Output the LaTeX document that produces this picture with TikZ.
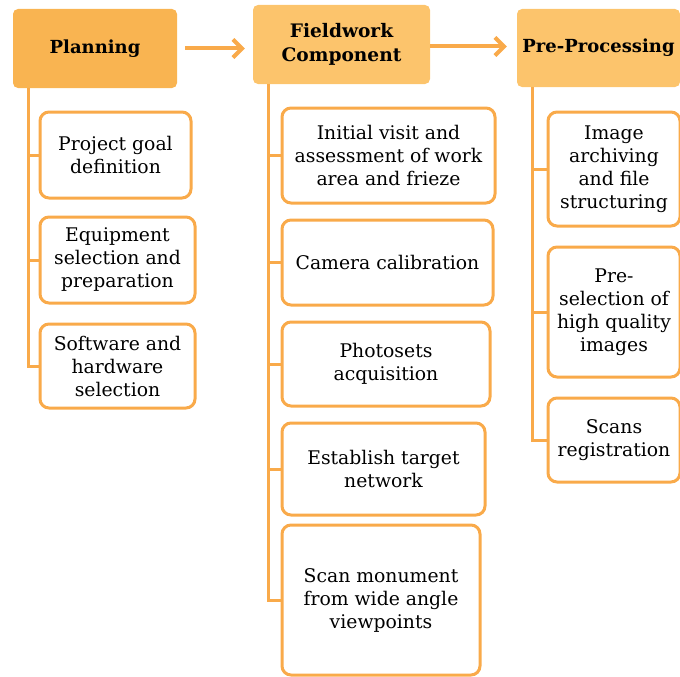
\documentclass[tikz,border=0pt]{standalone}
\usepackage{fontspec}
\setmainfont{DejaVu Serif}
\usetikzlibrary{arrows.meta}
\definecolor{stemorange}{HTML}{F9AA4A}
\definecolor{headdark}{HTML}{F9B451}
\definecolor{headlight}{HTML}{FCC46C}
\tikzset{
  head/.style={rounded corners=5pt, inner sep=0pt, align=center,
    font=\fontsize{18}{24}\selectfont\bfseries},
  task/.style={draw=stemorange, line width=3pt, rounded corners=9pt, fill=white,
    inner sep=0pt, align=center, font=\fontsize{18.8}{23}\selectfont},
  link/.style={draw=stemorange, line width=3pt},
  flow/.style={draw=stemorange, line width=4pt, -{Straight Barb[length=9pt,width=18pt,line width=4pt]}},
}
\begin{document}
\begin{tikzpicture}[x=1pt, y=-1pt]
\useasboundingbox (0,0) rectangle (680,677);
% column headers
\node[head, fill=headdark, minimum width=164pt, minimum height=79pt] (plan) at (95,48.5) {Planning};
\node[head, fill=headlight, minimum width=177pt, minimum height=79pt, font=\fontsize{18.6}{24}\selectfont\bfseries] (field) at (341.5,44.5) {Fieldwork\\Component};
\node[head, fill=headlight, minimum width=163pt, minimum height=78pt] (pre) at (598.5,48) {Pre-Processing};
\draw[flow] ([xshift=8pt]plan.east) -- ([xshift=-8pt]plan.east -| field.west);
\draw[flow] ([yshift=-2pt]field.east) -- ([xshift=-10pt,yshift=-2pt]field.east -| pre.west);
% planning tasks
\node[task, minimum width=151pt, minimum height=86pt] (p1) at (115.5,155) {Project goal\\definition};
\node[task, minimum width=155pt, minimum height=86pt] (p2) at (117.5,260) {Equipment\\selection and\\preparation};
\node[task, minimum width=155pt, minimum height=84pt] (p3) at (117.5,366) {Software and\\hardware\\selection};
% fieldwork tasks
\node[task, minimum width=213pt, minimum height=95pt] (f1) at (388.5,155.5) {Initial visit and\\assessment of work\\area and frieze};
\node[task, minimum width=211pt, minimum height=85pt] (f2) at (387.5,262.5) {Camera calibration};
\node[task, minimum width=208pt, minimum height=84pt] (f3) at (386,364) {Photosets\\acquisition};
\node[task, minimum width=203pt, minimum height=92pt] (f4) at (383.5,469) {Establish target\\network};
\node[task, minimum width=198pt, minimum height=150pt] (f5) at (381,600) {Scan monument\\from wide angle\\viewpoints};
% pre-processing tasks
\node[task, minimum width=132pt, minimum height=114pt] (r1) at (614,169) {Image\\archiving\\and file\\structuring};
\node[task, minimum width=132pt, minimum height=130pt] (r2) at (614,312) {Pre-\\selection of\\high quality\\images};
\node[task, minimum width=132pt, minimum height=84pt] (r3) at (614,440) {Scans\\registration};
% stems and branches
\coordinate (pstem) at (28,88);
\coordinate (fstem) at (268,84);
\coordinate (rstem) at (532,87);
\draw[link] (pstem) |- (p3.west);
\draw[link] (pstem |- p1.west) -- (p1.west);
\draw[link] (pstem |- p2.west) -- (p2.west);
\draw[link] (fstem) |- (f5.west);
\draw[link] (fstem |- f1.west) -- (f1.west);
\draw[link] (fstem |- f2.west) -- (f2.west);
\draw[link] (fstem |- f3.west) -- (f3.west);
\draw[link] (fstem |- f4.west) -- (f4.west);
\draw[link] (rstem) |- (r3.west);
\draw[link] (rstem |- r1.west) -- (r1.west);
\draw[link] (rstem |- r2.west) -- (r2.west);
\end{tikzpicture}
\end{document}
